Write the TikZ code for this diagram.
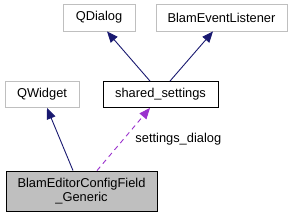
\documentclass[tikz,border=0pt]{standalone}
\usepackage{fontspec}
\setmainfont{Liberation Sans}
\usetikzlibrary{arrows.meta}
\definecolor{navy}{HTML}{191970}
\definecolor{orchid}{HTML}{9A32CD}
\definecolor{lgray}{HTML}{BFBFBF}
\tikzset{
  lbl/.style={font=\fontsize{12.9}{13.4}\selectfont},
  box/.style={draw, rectangle, inner sep=0pt, lbl, line width=0.9bp},
  extbox/.style={box, draw=lgray, fill=white},
  inh/.style={draw=navy, line width=0.9bp, -{Triangle[length=11bp,width=9bp,fill=navy]}},
  use/.style={draw=orchid, line width=0.9bp, dashed, dash pattern=on 5bp off 4bp, -{Triangle[length=11bp,width=9bp,fill=orchid]}},
}
\begin{document}
\begin{tikzpicture}[x=1bp,y=-1bp]
\useasboundingbox (0,0) rectangle (293,217);
\node[extbox, minimum width=72bp, minimum height=27bp] (qdialog) at (99,17.5) {QDialog};
\node[extbox, minimum width=131bp, minimum height=27bp] (bel) at (221.5,17.5) {BlamEventListener};
\node[extbox, minimum width=74bp, minimum height=26bp] (qwidget) at (42,94.5) {QWidget};
\node[box, draw=black, fill=white, minimum width=115bp, minimum height=26bp] (shared) at (160.5,94.5) {shared\_settings};
\node[box, draw=black, fill=lgray, minimum width=151bp, minimum height=40bp, align=center] (main) at (81.5,191) {BlamEditorConfigField\\\_Generic};
\draw[inh] (shared.north -| 150,0) -- (qdialog.south -| 107,0);
\draw[inh] (shared.north -| 170,0) -- (bel.south -| 213,0);
\draw[inh] (main.north -| 73,0) -- (qwidget.south -| 47,0);
\draw[use] (main.north -| 97,0) -- node[anchor=base west, pos=0.5, xshift=11.5bp, yshift=-3bp, lbl, inner sep=0pt, text=black] {settings\_dialog} (shared.south -| 150,0);
\end{tikzpicture}
\end{document}
